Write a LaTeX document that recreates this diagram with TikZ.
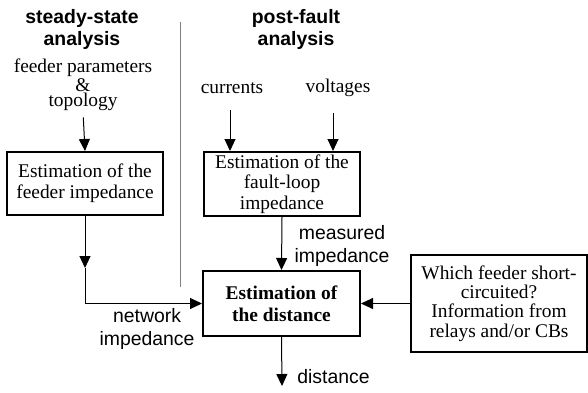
\documentclass[tikz,border=0pt]{standalone}
\usepackage{fontspec}
\setmainfont{Liberation Serif}
\setsansfont{Liberation Sans}
\usetikzlibrary{arrows.meta}

\begin{document}
\begin{tikzpicture}[x=0.5pt,y=-0.5pt,
  box/.style={draw,line width=1pt,inner sep=1pt,align=center,font=\fontsize{9.7}{10.3}\selectfont},
  lbl/.style={inner sep=0pt,align=center,font=\sffamily\fontsize{9.7}{11.5}\selectfont},
  hdr/.style={inner sep=0pt,align=center,font=\sffamily\bfseries\fontsize{9.7}{11}\selectfont},
  inp/.style={inner sep=0pt,align=center,font=\fontsize{9.7}{7.6}\selectfont},
  arr/.style={-{Triangle[length=6pt,width=5.5pt]},line width=0.5pt}]
\useasboundingbox (0,0) rectangle (588,392);
% headings and separator
\node[hdr] (steady) at (82,29) {steady-state\\analysis};
\node[hdr] (post) at (296,29) {post-fault\\analysis};
\draw[gray,line width=0.5pt] (180,22) -- (180,287);
% inputs
\node[inp] (fpar) at (83,85) {feeder parameters\\\&\\topology};
\node[inp] (cur) at (232,88) {currents};
\node[inp] (volt) at (338,88) {voltages};
% blocks
\node[box,minimum width=78pt,minimum height=31.5pt] (feeder) at (85,183.5)
  {Estimation of the\\feeder impedance};
\node[box,minimum width=78pt,minimum height=32pt] (fault) at (282,184)
  {Estimation of the\\fault-loop\\impedance};
\node[box,minimum width=78.5pt,minimum height=32.5pt,font=\bfseries\fontsize{9.7}{11}\selectfont] (dist) at (281.5,303.5)
  {Estimation of\\the distance};
\node[box,minimum width=88pt,minimum height=48.5pt,font=\fontsize{9.7}{9.6}\selectfont] (relay) at (499,303.5)
  {Which feeder short-\\circuited?\\Information from\\relays and/or CBs};
\coordinate (bend) at (85,268);
\coordinate (out) at (282,386);
% connectors
\draw[arr,shorten <=3pt] (fpar.south) -- (feeder.north);
\draw[arr,shorten <=8pt] (cur.south -| 230,0) -- (fault.north -| 230,0);
\draw[arr,shorten <=8pt] (volt.south -| 333,0) -- (fault.north -| 333,0);
\draw[arr] (feeder.south) -- (bend);
\draw[arr] (bend) |- (dist.west);
\draw[arr] (fault.south) -- (dist.north);
\draw[arr] (relay.west) -- (dist.east);
\draw[arr] (dist.south) -- (out);
% labels
\node[lbl] (netlbl) at (147,329) {network\\impedance};
\node[lbl] (measlbl) at (342,246) {measured\\impedance};
\node[lbl,anchor=west] (distlbl) at (297,377) {distance};
\end{tikzpicture}
\end{document}
